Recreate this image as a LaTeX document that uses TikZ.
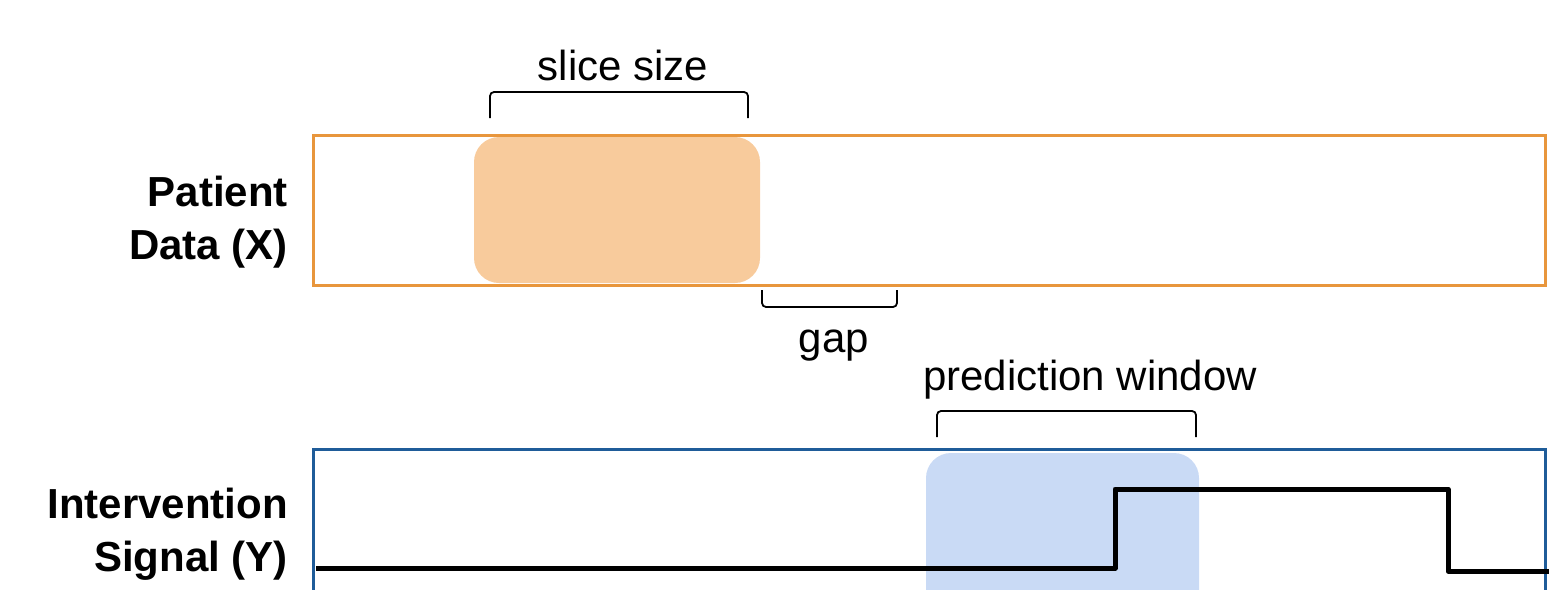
\documentclass[tikz,border=0pt]{standalone}
\usepackage{fontspec}
\setmainfont{Liberation Sans}
\definecolor{xorange}{HTML}{E8963C}
\definecolor{xpeach}{HTML}{F8CB9C}
\definecolor{yblue}{HTML}{1F5C99}
\definecolor{ylight}{HTML}{C9DAF5}
\begin{document}
\begin{tikzpicture}[x=1pt,y=-1pt,
  lbl/.style={font=\fontsize{42}{53}\selectfont\bfseries, align=right, anchor=east, inner sep=0pt},
  txt/.style={font=\fontsize{42}{50}\selectfont, inner sep=0pt, anchor=base},
  brace/.style={draw=black, line width=1.8pt, rounded corners=4pt},
  frame/.style={line width=3pt},
  sig/.style={draw=black, line width=5pt, line join=round}]
\useasboundingbox (0,0) rectangle (1549,589);
\begin{scope}
\clip (0,0) rectangle (1549,589);
% highlighted windows
\fill[xpeach, rounded corners=25pt] (474,137) rectangle (760,283);
\fill[ylight, rounded corners=25pt] (926,453) rectangle (1199,640);
% data rows
\draw[frame, draw=xorange] (313,135) rectangle (1545,285);
\draw[frame, draw=yblue] (313,640) -- (313,449) -- (1545,449) -- (1545,640);
% intervention signal
\coordinate (s0) at (316,568);
\coordinate (s1) at (1115,568);
\coordinate (s2) at (1115,489);
\coordinate (s3) at (1448,489);
\coordinate (s4) at (1448,571);
\coordinate (s5) at (1549,571);
\draw[sig] (s0) -- (s1) -- (s2) -- (s3) -- (s4) -- (s5);
\end{scope}
% brackets
\coordinate (sa) at (490,118); \coordinate (sb) at (748,118);
\draw[brace] (sa) -- (490,92) -- (748,92) -- (sb);
\coordinate (ga) at (762,290); \coordinate (gb) at (897,290);
\draw[brace] (ga) -- (762,307) -- (897,307) -- (gb);
\coordinate (pa) at (937,437); \coordinate (pb) at (1196,437);
\draw[brace] (pa) -- (937,411) -- (1196,411) -- (pb);
% labels
\node[txt] (slice) at (623,80) {slice size};
\node[txt] (gap) at (834,352) {gap};
\node[txt] (pred) at (1090,390) {prediction window};
\node[lbl] (xlab) at (288,222) {Patient\\Data (X)};
\node[lbl] (ylab) at (288,534) {Intervention\\Signal (Y)};
\end{tikzpicture}
\end{document}
